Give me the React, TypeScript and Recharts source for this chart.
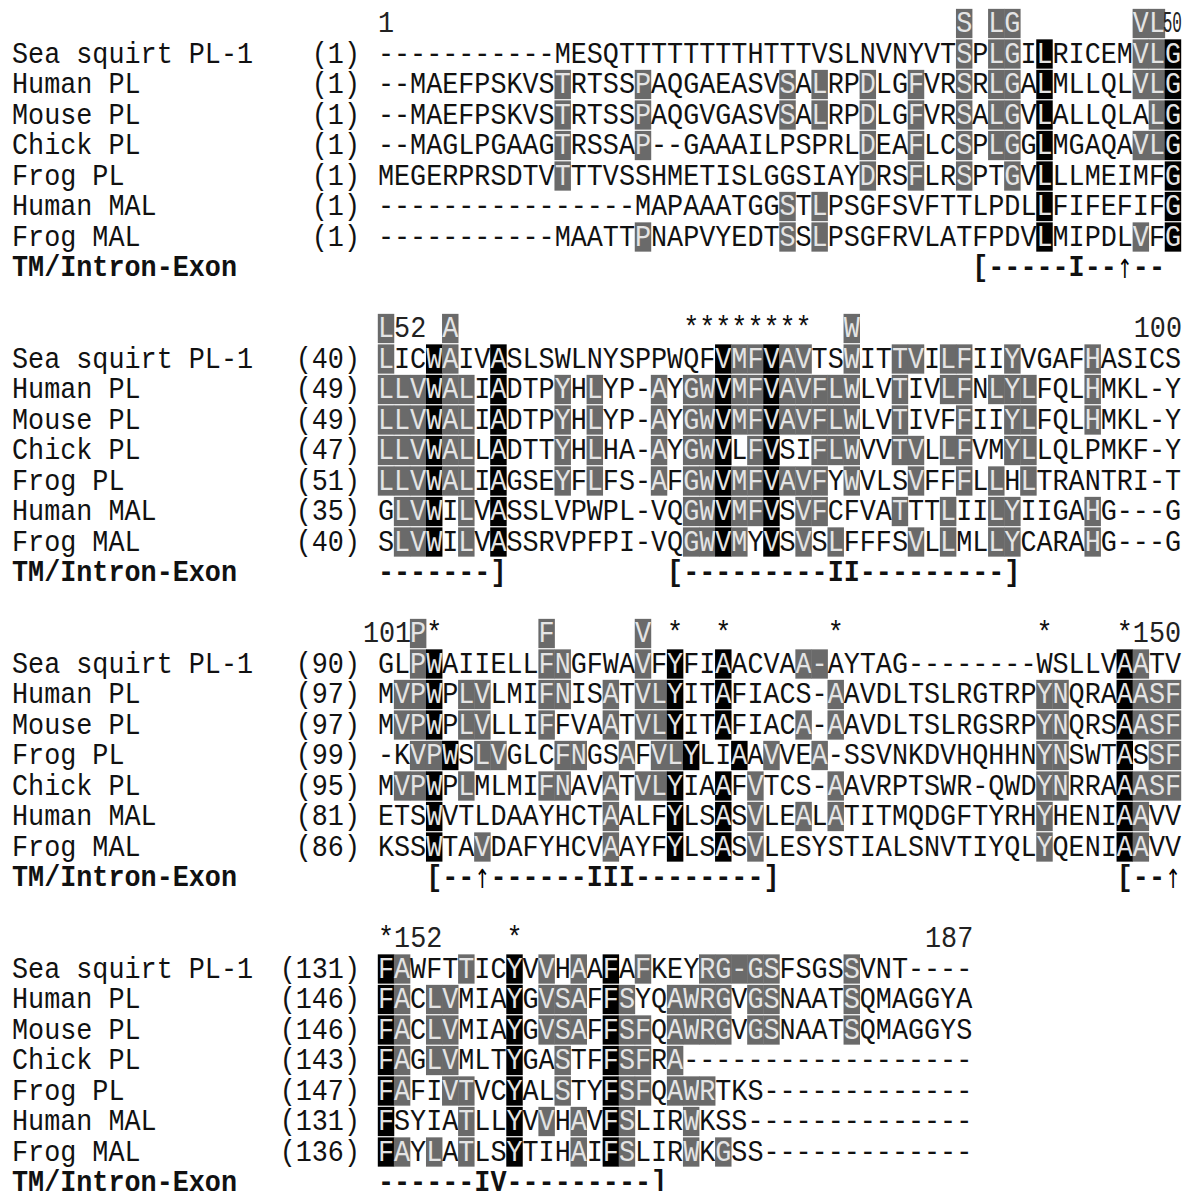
import { ScatterChart, Scatter, XAxis, YAxis } from 'recharts'

// ---- alignment data, block by block ----

const block1Names = ['Sea squirt PL-1', 'Human PL', 'Mouse PL', 'Chick PL', 'Frog PL', 'Human MAL', 'Frog MAL']
const block1Starts = [1, 1, 1, 1, 1, 1, 1]
const block1Seqs = [
  '-----------MESQTTTTTTTTHTTTVSLNVNYVTSPLGILRICEMVLG',
  '--MAEFPSKVSTRTSSPAQGAEASVSALRPDLGFVRSRLGALMLLQLVLG',
  '--MAEFPSKVSTRTSSPAQGVGASVSALRPDLGFVRSALGVLALLQLALG',
  '--MAGLPGAAGTRSSAP--GAAAILPSPRLDEAFLCSPLGGLMGAQAVLG',
  'MEGERPRSDTVTTTVSSHMETISLGGSIAYDRSFLRSPTGVLLLMEIMFG',
  '----------------MAPAAATGGSTLPSGFSVFTTLPDLLFIFEFIFG',
  '-----------MAATTPNAPVYEDTSSLPSGFRVLATFPDVLMIPDLVFG',
]
const block1Gray = [
  [37, 39, 40, 48, 49],
  [12, 17, 26, 28, 31, 34, 37, 39, 40, 48, 49],
  [12, 17, 26, 28, 31, 34, 37, 39, 40, 49],
  [12, 17, 31, 34, 37, 39, 40, 48, 49],
  [12, 31, 34, 37, 40],
  [26, 28],
  [17, 26, 28, 48],
]
const block1Black = [[42, 50], [42, 50], [42, 50], [42, 50], [42, 50], [42, 50], [42, 50]]
const block1Consensus: [number, string][] = [[37, 'S'], [39, 'L'], [40, 'G'], [48, 'V'], [49, 'L']]
const block1Stars: number[] = []
const block1Numbers: [number, string, string][] = [[1, '1', 'start'], [50, '50', 'end']]
const block1Tm: [number, string][] = [[38, '[-----I--↑--']]

const block2Names = ['Sea squirt PL-1', 'Human PL', 'Mouse PL', 'Chick PL', 'Frog PL', 'Human MAL', 'Frog MAL']
const block2Starts = [40, 49, 49, 47, 51, 35, 40]
const block2Seqs = [
  'LICWAIVASLSWLNYSPPWQFVMFVAVTSWITTVILFIIYVGAFHASICS',
  'LLVWALIADTPYHLYP-AYGWVMFVAVFLWLVTIVLFNLYLFQLHMKL-Y',
  'LLVWALIADTPYHLYP-AYGWVMFVAVFLWLVTIVFFIIYLFQLHMKL-Y',
  'LLVWALLADTTYHLHA-AYGWVLFVSIFLWVVTVLLFVMYLLQLPMKF-Y',
  'LLVWALIAGSEYFLFS-AFGWVMFVAVFYWVLSVFFFLLHLTRANTRI-T',
  'GLVWILVASSLVPWPL-VQGWVMFVSVFCFVATTTLIILYIIGAHG---G',
  'SLVWILVASSRVPFPI-VQGWVMYVSVSLFFFSVLLMLLYCARAHG---G',
]
const block2Gray = [
  [51, 55, 73, 74, 76, 77, 80, 83, 84, 86, 87, 90, 95],
  [51, 52, 53, 55, 56, 62, 64, 68, 70, 71, 73, 74, 76, 77, 78, 79, 80, 83, 86, 87, 89, 90, 91, 95],
  [51, 52, 53, 55, 56, 62, 64, 68, 70, 71, 73, 74, 76, 77, 78, 79, 80, 83, 87, 90, 91, 95],
  [51, 52, 53, 55, 56, 62, 64, 68, 70, 71, 74, 78, 79, 80, 83, 84, 86, 87, 90, 91],
  [51, 52, 53, 55, 56, 62, 64, 68, 70, 71, 73, 74, 76, 77, 78, 80, 84, 87, 89, 91],
  [52, 53, 56, 70, 71, 73, 74, 77, 78, 83, 86, 89, 90, 95],
  [52, 53, 56, 70, 71, 73, 77, 79, 84, 86, 89, 90, 95],
]
const block2Black = [
  [54, 58, 72, 75], [54, 58, 72, 75], [54, 58, 72, 75], [54, 58, 72, 75],
  [54, 58, 72, 75], [54, 58, 72, 75], [54, 58, 72, 75],
]
const block2Consensus: [number, string][] = [[51, 'L'], [55, 'A'], [80, 'W']]
const block2Stars = [70, 71, 72, 73, 74, 75, 76, 77]
const block2Numbers: [number, string, string][] = [[52, '52', 'start'], [100, '100', 'end']]
const block2Tm: [number, string][] = [[51, '-------]'], [69, '[---------II---------]']]

const block3Names = ['Sea squirt PL-1', 'Human PL', 'Mouse PL', 'Frog PL', 'Chick PL', 'Human MAL', 'Frog MAL']
const block3Starts = [90, 97, 97, 99, 95, 81, 86]
const block3Seqs = [
  'GLPWAIIELLFNGFWAVFYFIAACVAA-AYTAG--------WSLLVAATV',
  'MVPWPLVLMIFNISATVLYITAFIACS-AAVDLTSLRGTRPYNQRAAASF',
  'MVPWPLVLLIFFVAATVLYITAFIACA-AAVDLTSLRGSRPYNQRSAASF',
  '-KVPWSLVGLCFNGSAFVLYLIAAVVEA-SSVNKDVHQHHNYNSWTASSF',
  'MVPWPLMLMIFNAVATVLYIAAFVTCS-AAVRPTSWR-QWDYNRRAAASF',
  'ETSWVTLDAAYHCTAALFYLSASVLEALATITMQDGFTYRHYHENIAAVV',
  'KSSWTAVDAFYHCVAAYFYLSASVLESYSTIALSNVTIYQLYQENIAAVV',
]
const block3Gray = [
  [103, 111, 112, 117, 127, 128, 148],
  [102, 103, 106, 107, 111, 112, 115, 117, 118, 129, 142, 143, 148, 149, 150],
  [102, 103, 106, 107, 111, 115, 117, 118, 127, 129, 142, 143, 148, 149, 150],
  [103, 104, 107, 108, 112, 113, 116, 118, 119, 125, 128, 142, 143, 149, 150],
  [102, 103, 106, 111, 112, 115, 117, 118, 124, 129, 142, 143, 148, 149, 150],
  [115, 124, 127, 129, 142, 148],
  [107, 115, 124, 142, 148],
]
const block3Black = [
  [104, 119, 122, 147], [104, 119, 122, 147], [104, 119, 122, 147], [105, 120, 123, 147],
  [104, 119, 122, 147], [104, 119, 122, 147], [104, 119, 122, 147],
]
const block3Consensus: [number, string][] = [[103, 'P'], [111, 'F'], [117, 'V']]
const block3Stars = [104, 119, 122, 129, 142, 147]
const block3Numbers: [number, string, string][] = [[102, '101', 'end'], [148, '150', 'start']]
const block3Tm: [number, string][] = [[104, '[--↑------III--------]'], [147, '[--↑']]

const block4Names = ['Sea squirt PL-1', 'Human PL', 'Mouse PL', 'Chick PL', 'Frog PL', 'Human MAL', 'Frog MAL']
const block4Starts = [131, 146, 146, 143, 147, 131, 136]
const block4Seqs = [
  'FAWFTTICYVVHAAFAFKEYRG-GSFSGSSVNT----',
  'FACLVMIAYGVSAFFSYQAWRGVGSNAATSQMAGGYA',
  'FACLVMIAYGVSAFFSFQAWRGVGSNAATSQMAGGYS',
  'FAGLVMLTYGASTFFSFRA------------------',
  'FAFIVTVCYALSTYFSFQAWRTKS-------------',
  'FSYIATLLYVVHAVFSLIRWKSS--------------',
  'FAYLATLSYTIHAIFSLIRWKGSS-------------',
]
const block4Gray = [
  [152, 156, 161, 163, 167, 171, 172, 173, 174, 175, 180],
  [152, 154, 155, 161, 162, 163, 166, 169, 170, 171, 172, 174, 175, 180],
  [152, 154, 155, 161, 162, 163, 166, 167, 169, 170, 171, 172, 174, 175, 180],
  [152, 154, 155, 162, 166, 167, 169],
  [152, 155, 156, 162, 166, 167, 169, 170, 171],
  [156, 161, 163, 166, 170],
  [152, 154, 156, 163, 166, 170, 172],
]
const block4Black = [
  [151, 159, 165], [151, 159, 165], [151, 159, 165], [151, 159, 165],
  [151, 159, 165], [151, 159, 165], [151, 159, 165],
]
const block4Consensus: [number, string][] = []
const block4Stars = [151, 159]
const block4Numbers: [number, string, string][] = [[152, '152', 'start'], [187, '187', 'end']]
const block4Tm: [number, string][] = [[151, '------IV---------]']]

// ---- layout constants ----
const WIDTH = 1203
const HEIGHT = 1191
const LABEL_W = 378
const RIGHT_PAD = 22
const COL_W = (WIDTH - LABEL_W - RIGHT_PAD) / 50
const ROW_H = 30.5
const FONT = '"Liberation Mono", "DejaVu Sans Mono", monospace'
const FS = 26.8
const SY = 1.08
const GRAY = '#6a6a6a'
const LIGHT = '#e4e4e4'

const blocks = [
  { first: 1, names: block1Names, starts: block1Starts, seqs: block1Seqs, gray: block1Gray, black: block1Black, cons: block1Consensus, stars: block1Stars, nums: block1Numbers, tm: block1Tm },
  { first: 51, names: block2Names, starts: block2Starts, seqs: block2Seqs, gray: block2Gray, black: block2Black, cons: block2Consensus, stars: block2Stars, nums: block2Numbers, tm: block2Tm },
  { first: 101, names: block3Names, starts: block3Starts, seqs: block3Seqs, gray: block3Gray, black: block3Black, cons: block3Consensus, stars: block3Stars, nums: block3Numbers, tm: block3Tm },
  { first: 151, names: block4Names, starts: block4Starts, seqs: block4Seqs, gray: block4Gray, black: block4Black, cons: block4Consensus, stars: block4Stars, nums: block4Numbers, tm: block4Tm },
]

type Cell = { x: number; y: number; ch: string; kind: string; fill?: string; anchor?: string }

const cells: Cell[] = []
const rowLabels = new Map<number, { name: string; num?: string; bold?: boolean }>()

blocks.forEach((b, bi) => {
  const head = bi * 10
  b.cons.forEach(([col, ch]) => cells.push({ x: col - b.first + 1, y: head, ch, kind: 'seq', fill: GRAY }))
  b.stars.forEach((col) => cells.push({ x: col - b.first + 1, y: head, ch: '*', kind: 'seq' }))
  b.nums.forEach(([col, txt, anchor]) => cells.push({ x: col - b.first + 1, y: head, ch: txt, kind: 'num', anchor }))
  b.seqs.forEach((seq, ri) => {
    const line = head + 1 + ri
    rowLabels.set(line, { name: b.names[ri], num: `(${b.starts[ri]})` })
    seq.split('').forEach((ch, ci) => {
      const col = b.first + ci
      let fill: string | undefined
      if (b.black[ri].includes(col)) fill = '#000'
      else if (b.gray[ri].includes(col)) fill = GRAY
      cells.push({ x: ci + 1, y: line, ch, kind: 'seq', fill })
    })
  })
  const tmLine = head + 8
  rowLabels.set(tmLine, { name: 'TM/Intron-Exon', bold: true })
  b.tm.forEach(([col, txt]) => {
    txt.split('').forEach((ch, k) => cells.push({ x: col - b.first + 1 + k, y: tmLine, ch, kind: 'tm' }))
  })
})

const labelTicks = Array.from(rowLabels.keys())

const textY = FS * 0.3

function renderCell(props: any) {
  const { cx, cy, payload } = props
  const c = payload as Cell
  if (cx == null || cy == null) return <g />
  if (c.kind === 'num') {
    const tx = c.anchor === 'end' ? cx + COL_W / 2 + 1 : cx - COL_W / 2
    // a two-digit end label is squeezed into its own column, as in the source figure
    const sx = c.anchor === 'end' && c.ch.length === 2 ? 0.6 : 1
    return (
      <g transform={`translate(${tx},${cy}) scale(${sx},${SY})`}>
        <text x={0} y={textY} textAnchor={c.anchor} fontFamily={FONT} fontSize={FS} fill="#222">
          {c.ch}
        </text>
      </g>
    )
  }
  if (c.ch === '↑') {
    return (
      <g transform={`translate(${cx},${cy}) scale(0.85,1.2)`}>
        <text x={0} y={9} textAnchor="middle" fontFamily='"DejaVu Sans", sans-serif' fontSize={22} fill="#000">
          {c.ch}
        </text>
      </g>
    )
  }
  return (
    <g>
      {c.fill && (
        <rect x={cx - COL_W / 2 - 0.2} y={cy - ROW_H / 2 + 0.6} width={COL_W + 0.4} height={ROW_H - 1.2} fill={c.fill} />
      )}
      <g transform={`translate(${cx},${cy}) scale(1,${SY})`}>
        <text
          x={0}
          y={textY}
          textAnchor="middle"
          fontFamily={FONT}
          fontSize={FS}
          fontWeight={c.kind === 'tm' ? 'bold' : 'normal'}
          fill={c.fill ? LIGHT : '#111'}
        >
          {c.ch}
        </text>
      </g>
    </g>
  )
}

function RowLabel(props: any) {
  const { y, payload } = props
  const lab = rowLabels.get(payload.value)
  if (!lab) return <g />
  return (
    <g transform={`translate(0,${y}) scale(1,${SY})`}>
      <text x={12} y={textY} fontFamily={FONT} fontSize={FS} fontWeight={lab.bold ? 'bold' : 'normal'} fill="#111">
        {lab.name}
      </text>
      {lab.num && (
        <text x={360} y={textY} textAnchor="end" fontFamily={FONT} fontSize={FS} fill="#111">
          {lab.num}
        </text>
      )}
    </g>
  )
}

export default function App() {
  return (
    <div style={{ width: WIDTH, height: HEIGHT, background: '#fff' }}>
      <style>{'body{margin:0;background:#fff}'}</style>
      <ScatterChart width={WIDTH} height={HEIGHT} margin={{ top: 0, right: RIGHT_PAD, bottom: 0, left: 0 }}>
        <XAxis type="number" dataKey="x" domain={[0.5, 50.5]} hide />
        <YAxis
          type="number"
          dataKey="y"
          domain={[-23.5 / ROW_H, (HEIGHT - 23.5) / ROW_H]}
          reversed
          width={LABEL_W}
          ticks={labelTicks}
          interval={0}
          tick={<RowLabel />}
          axisLine={false}
          tickLine={false}
        />
        <Scatter data={cells} shape={renderCell} isAnimationActive={false} />
      </ScatterChart>
    </div>
  )
}
